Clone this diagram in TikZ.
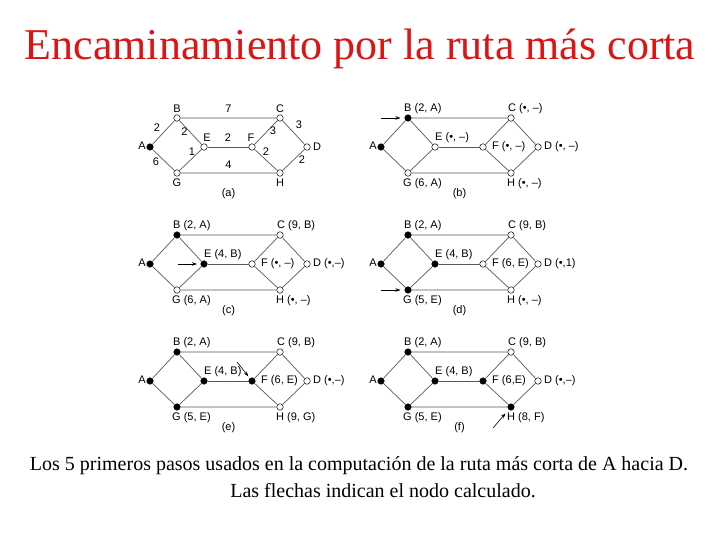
\documentclass[tikz,border=0pt]{standalone}
\usepackage{fontspec}
\setmainfont{Liberation Serif}
\newfontfamily\helv{Liberation Sans}
\usetikzlibrary{arrows.meta,calc}
\definecolor{rojotit}{RGB}{220,20,20}

\tikzset{
  nodo/.style={circle,draw,line width=0.5pt,fill=white,inner sep=0pt,minimum size=6.5pt},
  arista/.style={black!65,line width=0.7pt},
  etiq/.style={font=\helv\fontsize{11}{11}\selectfont,inner sep=0pt},
  flecha/.style={-{Stealth[length=5pt,width=3.5pt]},line width=0.6pt,shorten >=4pt},
}

% grafo: #1 letra del paso, #2 posicion de A, #3 nodos ya calculados
\newcommand\grafo[3]{%
  \begin{scope}[shift={(#2)}]
    \node[nodo] (#1A) at (0,0) {};
    \node[nodo] (#1B) at (27,-29) {};
    \node[nodo] (#1E) at (54,0) {};
    \node[nodo] (#1F) at (102,0) {};
    \node[nodo] (#1C) at (130,-29) {};
    \node[nodo] (#1D) at (157,0) {};
    \node[nodo] (#1G) at (27,26) {};
    \node[nodo] (#1H) at (130,26) {};
  \end{scope}
  \draw[arista] (#1A) -- (#1B) -- (#1C) -- (#1D) -- (#1H) -- (#1G) -- (#1A);
  \draw[arista] (#1B) -- (#1E) -- (#1G);
  \draw[arista] (#1C) -- (#1F) -- (#1H);
  \draw[arista] (#1E) -- (#1F);
  \foreach \n in {#3} \fill (#1\n) circle (3.25pt);
  \node[etiq,anchor=east] (#1lA) at ([xshift=-4pt,yshift=1pt]#1A) {A};
  \node[etiq] (#1cap) at ([yshift=-21pt]$(#1G)!0.5!(#1H)$) {(#1)};
}

% rotulos: #1 letra del paso, luego B C E F D G H
\newcommand\rotulos[8]{%
  \node[etiq,anchor=west] (#1lB) at ([xshift=-4pt,yshift=9pt]#1B) {#2};
  \node[etiq,anchor=west] (#1lC) at ([xshift=-3pt,yshift=9pt]#1C) {#3};
  \node[etiq,anchor=west] (#1lE) at ([yshift=9pt]#1E) {#4};
  \node[etiq,anchor=west] (#1lF) at ([xshift=9pt]#1F) {#5};
  \node[etiq,anchor=west] (#1lD) at ([xshift=6pt]#1D) {#6};
  \node[etiq,anchor=west] (#1lG) at ([xshift=-5pt,yshift=-11pt]#1G) {#7};
  \node[etiq,anchor=west] (#1lH) at ([xshift=-4pt,yshift=-11pt]#1H) {#8};
}

\begin{document}
\begin{tikzpicture}[x=1pt,y=-1pt]
  \fill[white] (0,0) rectangle (720,540);
  \useasboundingbox (0,0) rectangle (720,540);

  \node[font=\fontsize{44}{48}\selectfont,text=rojotit,inner sep=0pt] (titulo) at (360,49) {Encaminamiento por la ruta más corta};

  % (a) red con pesos
  \grafo{a}{150,147}{A}
  \node[etiq] (alB) at ([yshift=9pt]aB) {B};
  \node[etiq] (alC) at ([yshift=9pt]aC) {C};
  \node[etiq] (alE) at ([xshift=3pt,yshift=9pt]aE) {E};
  \node[etiq] (alF) at ([xshift=-1pt,yshift=9pt]aF) {F};
  \node[etiq] (alD) at ([xshift=10pt]aD) {D};
  \node[etiq] (alG) at ([yshift=-10pt]aG) {G};
  \node[etiq] (alH) at ([yshift=-10pt]aH) {H};
  \path (aB) -- node[etiq,yshift=9pt] (wBC) {7} (aC);
  \path (aA) -- node[etiq,xshift=-6.5pt,yshift=4.5pt] (wAB) {2} (aB);
  \path (aB) -- node[etiq,xshift=-6pt,yshift=1pt] (wBE) {2} (aE);
  \path (aE) -- node[etiq,yshift=9pt] (wEF) {2} (aF);
  \path (aF) -- node[etiq,xshift=7pt,yshift=1.5pt] (wFC) {3} (aC);
  \path (aC) -- node[etiq,xshift=5.5pt,yshift=7.5pt] (wCD) {3} (aD);
  \path (aF) -- node[etiq,yshift=8pt] (wFH) {2} (aH);
  \path (aH) -- node[etiq,xshift=8.5pt] (wHD) {2} (aD);
  \path (aA) -- node[etiq,xshift=-7.5pt,yshift=-2pt] (wAG) {6} (aG);
  \path (aG) -- node[etiq,xshift=1.5pt,yshift=8pt] (wGE) {1} (aE);
  \path (aG) -- node[etiq,yshift=8pt] (wGH) {4} (aH);

  % (b)
  \grafo{b}{381,147}{A,B}
  \rotulos{b}{B (2, A)}{C (•, –)}{E (•, –)}{F (•, –)}{D (•, –)}{G (6, A)}{H (•, –)}
  \coordinate (bf) at ([xshift=-27pt]bB);
  \draw[flecha] (bf) -- (bB);

  % (c)
  \grafo{c}{150,264}{A,B,E}
  \rotulos{c}{B (2, A)}{C (9, B)}{E (4, B)}{F (•, –)}{D (•,–)}{G (6, A)}{H (•, –)}
  \coordinate (cf) at ([xshift=-26pt]cE);
  \draw[flecha,shorten >=3.5pt] (cf) -- (cE);

  % (d)
  \grafo{d}{381,264}{A,B,E,G}
  \rotulos{d}{B (2, A)}{C (9, B)}{E (4, B)}{F (6, E)}{D (•,1)}{G (5, E)}{H (•, –)}
  \coordinate (df) at ([xshift=-27pt]dG);
  \draw[flecha] (df) -- (dG);

  % (e)
  \grafo{e}{150,381}{A,B,E,G,F}
  \rotulos{e}{B (2, A)}{C (9, B)}{E (4, B)}{F (6, E)}{D (•,–)}{G (5, E)}{H (9, G)}
  \coordinate (ef) at ([xshift=-15pt,yshift=19pt]eF);
  \draw[flecha,shorten >=2.5pt] (ef) -- (eF);

  % (f)
  \grafo{f}{381,381}{A,B,E,G,F,H}
  \rotulos{f}{B (2, A)}{C (9, B)}{E (4, B)}{F (6,E)}{D (•,–)}{G (5, E)}{H (8, F)}
  \coordinate (ff) at ([xshift=-18pt,yshift=-21pt]fH);
  \draw[flecha,shorten >=5pt] (ff) -- (fH);

  \node[font=\fontsize{20}{24}\selectfont,inner sep=0pt] (pie1) at (359,466) {Los 5 primeros pasos usados en la computación de la ruta más corta de A hacia D.};
  \node[font=\fontsize{20}{24}\selectfont,inner sep=0pt] (pie2) at (383,491) {Las flechas indican el nodo calculado.};
\end{tikzpicture}
\end{document}
